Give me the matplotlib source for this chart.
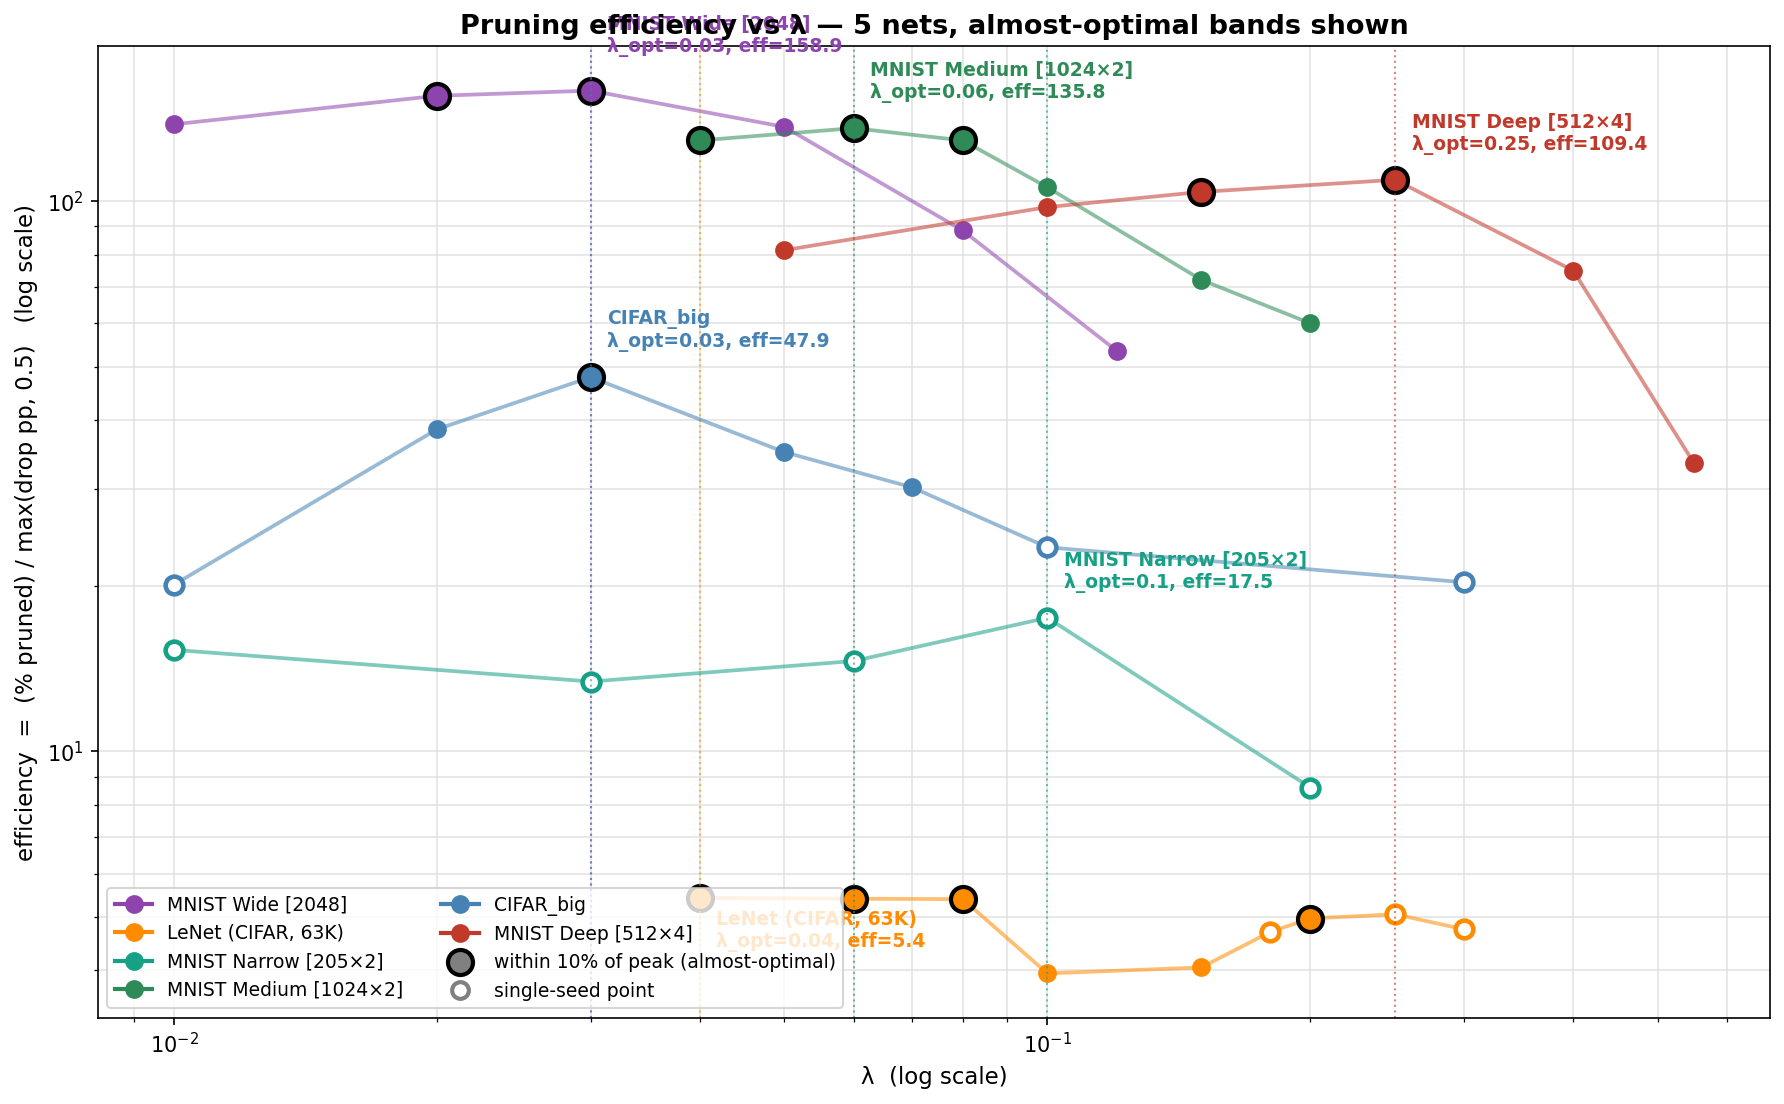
import numpy as np
import matplotlib
matplotlib.use("Agg")
import matplotlib.pyplot as plt
from matplotlib.lines import Line2D

# λ sweep per net: (lambda, efficiency, single-seed flag)
wide_lam = [0.01, 0.02, 0.03, 0.05, 0.08, 0.12]
wide_eff = [138.0, 155.5, 158.9, 136.5, 88.5, 53.5]
wide_single = [False, False, False, False, False, False]

lenet_lam = [0.04, 0.06, 0.08, 0.1, 0.15, 0.18, 0.2, 0.25, 0.3]
lenet_eff = [5.42, 5.40, 5.39, 3.95, 4.05, 4.70, 4.97, 5.06, 4.75]
lenet_single = [False, False, False, False, False, True, False, True, True]

narrow_lam = [0.01, 0.03, 0.06, 0.1, 0.2]
narrow_eff = [15.3, 13.4, 14.6, 17.5, 8.6]
narrow_single = [True, True, True, True, True]

medium_lam = [0.04, 0.06, 0.08, 0.1, 0.15, 0.2]
medium_eff = [129.0, 135.8, 129.0, 106.0, 72.0, 60.0]
medium_single = [False, False, False, False, False, False]

cifar_lam = [0.01, 0.02, 0.03, 0.05, 0.07, 0.1, 0.3]
cifar_eff = [20.1, 38.5, 47.9, 35.0, 30.2, 23.5, 20.3]
cifar_single = [True, False, False, False, False, True, True]

deep_lam = [0.05, 0.1, 0.15, 0.25, 0.4, 0.55]
deep_eff = [81.5, 97.6, 104.0, 109.4, 74.8, 33.4]
deep_single = [False, False, False, False, False, False]

# name, data, colour, vertical label offset (pt)
NETS = [
    ('MNIST Wide [2048]', wide_lam, wide_eff, wide_single, '#8e44ad', 16),
    ('LeNet (CIFAR, 63K)', lenet_lam, lenet_eff, lenet_single, '#ff8c00', -6),
    ('MNIST Narrow [205×2]', narrow_lam, narrow_eff, narrow_single, '#16a085', 12),
    ('MNIST Medium [1024×2]', medium_lam, medium_eff, medium_single, '#2e8b57', 12),
    ('CIFAR_big', cifar_lam, cifar_eff, cifar_single, '#4682b4', 12),
    ('MNIST Deep [512×4]', deep_lam, deep_eff, deep_single, '#c0392b', 12),
]

fig = plt.figure(figsize=(1784 / 150, 1104 / 150), dpi=150)
ax = fig.add_axes([0.0549, 0.0783, 0.9922 - 0.0549, 0.9579 - 0.0783])

for name, lam, eff, single, color, dy in NETS:
    lam = np.array(lam)
    eff = np.array(eff)
    single = np.array(single)
    i_opt = int(np.argmax(eff))
    peak = eff[i_opt]
    near = (eff >= 0.9 * peak) & ~single

    ax.plot(lam, eff, '-', color=color, lw=1.8, alpha=0.55)
    normal = ~near & ~single
    ax.plot(lam[normal], eff[normal], 'o', ls='none', color=color, ms=8)
    ax.plot(lam[near], eff[near], 'o', ls='none', mfc=color, mec='black', mew=2, ms=12)
    ax.plot(lam[single], eff[single], 'o', ls='none', mfc='white', mec=color, mew=2.2, ms=8.5)

    ax.axvline(lam[i_opt], color=color, ls=':', lw=1, alpha=0.6)
    va = 'bottom' if dy > 0 else 'top'
    ax.annotate(f'{name}\nλ_opt={lam[i_opt]:g}, eff={peak:.1f}',
                xy=(lam[i_opt], peak), xytext=(8, dy), textcoords='offset points',
                fontsize=9, fontweight='bold', color=color, va=va, annotation_clip=False)

ax.set_xscale('log')
ax.set_yscale('log')
ax.grid(True, which='both', color='#dddddd', lw=0.8, alpha=0.8)
ax.set_axisbelow(True)

ax.set_xlabel('λ  (log scale)', fontsize=11)
ax.set_ylabel('efficiency  =  (% pruned) / max(drop pp, 0.5)   (log scale)', fontsize=11)
ax.set_title('Pruning efficiency vs λ — 5 nets, almost-optimal bands shown',
             fontsize=13, fontweight='bold')

handles = [Line2D([0], [0], color=c, marker='o', lw=2, ms=8) for _, _, _, _, c, _ in NETS]
labels = [n for n, *_ in NETS]
handles.append(Line2D([0], [0], ls='none', marker='o', mfc='grey', mec='black', mew=2, ms=12))
labels.append('within 10% of peak (almost-optimal)')
handles.append(Line2D([0], [0], ls='none', marker='o', mfc='white', mec='grey', mew=2, ms=8))
labels.append('single-seed point')
ax.legend(handles, labels, loc='lower left', ncol=2, fontsize=9)

fig.savefig('out.png', dpi=150)
